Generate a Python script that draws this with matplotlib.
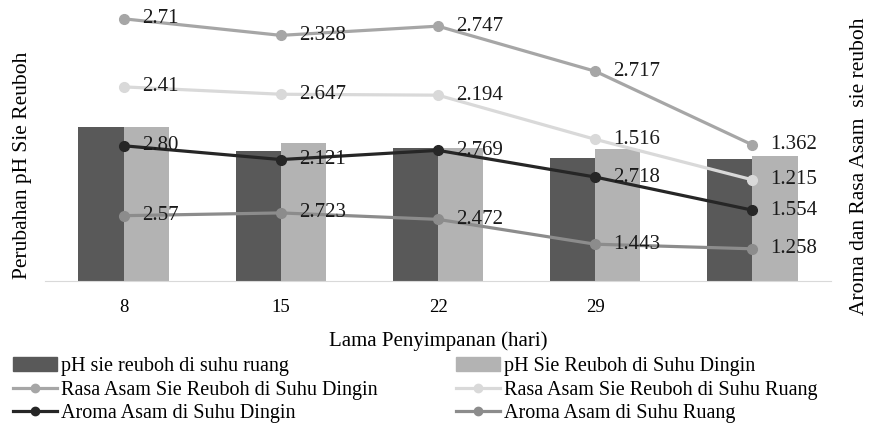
import numpy as np
import matplotlib.pyplot as plt
from matplotlib.lines import Line2D
from matplotlib.patches import Patch

# storage days (last group has no tick label in the original)
days = ['8', '15', '22', '29', '']

# pH bars (left axis, no scale shown)
ph_ruang = [5.02, 4.24, 4.34, 4.01, 3.98]
ph_dingin = [5.02, 4.50, 4.34, 4.30, 4.08]

# line series (right axis, no scale shown)
rasa_dingin = [2.85, 2.67, 2.77, 2.28, 1.48]
rasa_ruang = [2.11, 2.03, 2.02, 1.54, 1.10]
aroma_dingin = [1.47, 1.32, 1.42, 1.13, 0.77]
aroma_ruang = [0.71, 0.74, 0.67, 0.40, 0.35]

# data label texts as printed on the chart
lab_rasa_dingin = ['2.71', '2.328', '2.747', '2.717', '1.362']
lab_rasa_ruang = ['2.41', '2.647', '2.194', '1.516', '1.215']
lab_aroma_dingin = ['2.80', '2.121', '2.769', '2.718', '1.554']
lab_aroma_ruang = ['2.57', '2.723', '2.472', '1.443', '1.258']


def run():
    plt.rcParams['font.family'] = ['Liberation Serif', 'DejaVu Serif']

    fig = plt.figure(figsize=(8.69, 4.28), dpi=100)
    ax = fig.add_axes([45 / 869, (428 - 281) / 428, 786 / 869, 276 / 428])
    ax2 = ax.twinx()

    x = np.arange(len(days))
    w = 0.287
    c_dark = '#595959'
    c_light = '#b3b3b3'
    ax.bar(x - w / 2, ph_ruang, w, color=c_dark)
    ax.bar(x + w / 2, ph_dingin, w, color=c_light)
    ax.set_ylim(0, 9)
    ax.set_xlim(-0.5, 4.5)

    series = [
        (rasa_dingin, lab_rasa_dingin, '#a6a6a6'),
        (rasa_ruang, lab_rasa_ruang, '#d9d9d9'),
        (aroma_dingin, lab_aroma_dingin, '#262626'),
        (aroma_ruang, lab_aroma_ruang, '#8c8c8c'),
    ]
    for vals, labs, col in series:
        ax2.plot(x, vals, color=col, lw=2.3, marker='o', ms=7, zorder=3)
        for xi, yi, t in zip(x, vals, labs):
            ax2.annotate(t, (xi, yi), xytext=(13, 0), textcoords='offset points',
                         ha='left', va='center', fontsize=15, color='#1a1a1a')
    ax2.set_ylim(0, 3)

    # axes styling: only the light base line stays
    for a in (ax, ax2):
        for s in ('top', 'left', 'right'):
            a.spines[s].set_visible(False)
        a.set_yticks([])
    ax.spines['bottom'].set_color('#d9d9d9')
    ax2.spines['bottom'].set_visible(False)
    ax.set_xticks(x)
    ax.set_xticklabels(days, fontsize=13.5)
    ax.tick_params(axis='x', length=0, pad=13)

    ax.set_xlabel('Lama Penyimpanan (hari)', fontsize=15, labelpad=11)
    fig.text(23 / 869, 1 - 165 / 428, 'Perubahan pH Sie Reuboh', rotation=90,
             ha='center', va='center', fontsize=15.5)
    fig.text(860 / 869, 1 - 166 / 428, 'Aroma dan Rasa Asam  sie reuboh', rotation=90,
             ha='center', va='center', fontsize=15.5)

    # legend in two columns placed by hand
    h = [
        Patch(color=c_dark),
        Line2D([], [], color='#a6a6a6', lw=2.3, marker='o', ms=6),
        Line2D([], [], color='#262626', lw=2.3, marker='o', ms=6),
        Patch(color=c_light),
        Line2D([], [], color='#d9d9d9', lw=2.3, marker='o', ms=6),
        Line2D([], [], color='#8c8c8c', lw=2.3, marker='o', ms=6),
    ]
    names = [
        'pH sie reuboh di suhu ruang',
        'Rasa Asam Sie Reuboh di Suhu Dingin',
        'Aroma Asam di Suhu Dingin',
        'pH Sie Reuboh di Suhu Dingin',
        'Rasa Asam Sie Reuboh di Suhu Ruang',
        'Aroma Asam di Suhu Ruang',
    ]
    for col, x0 in ((0, 13 / 869), (1, 456 / 869)):
        fig.legend(h[col * 3:col * 3 + 3], names[col * 3:col * 3 + 3],
                   loc='upper left', bbox_to_anchor=(x0, 1 - 357 / 428),
                   frameon=False, fontsize=14.5, handlelength=2.2,
                   handletextpad=0.2, labelspacing=0.22, borderpad=0.0,
                   borderaxespad=0.0)

    fig.savefig('out.png', dpi=100)


if __name__ == "__main__":
    run()
